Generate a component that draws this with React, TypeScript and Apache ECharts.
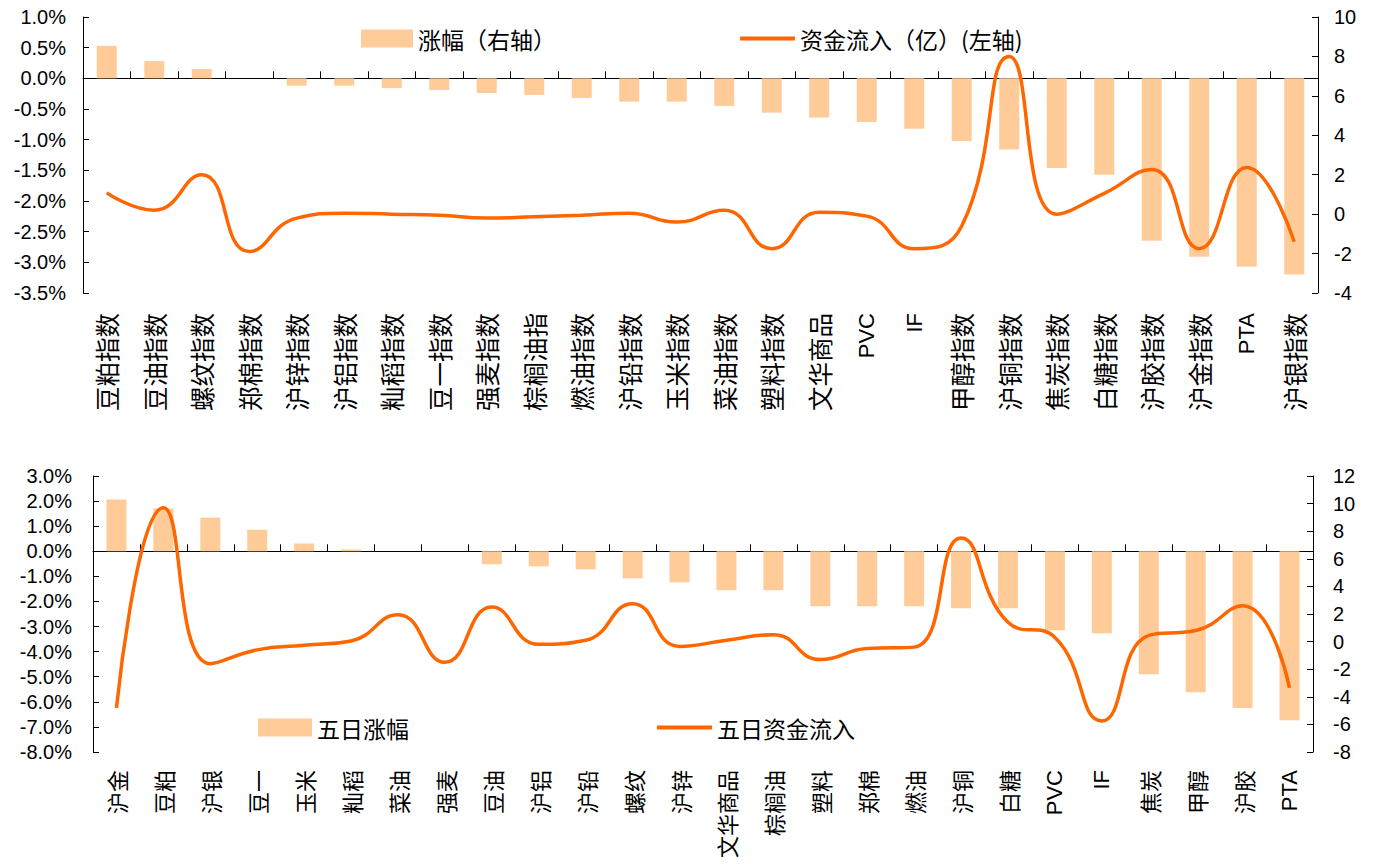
import React, { useEffect, useRef } from "react";
import * as echarts from "echarts";

const topCats = ['豆粕指数','豆油指数','螺纹指数','郑棉指数','沪锌指数','沪铝指数','籼稻指数','豆一指数','强麦指数','棕榈油指','燃油指数','沪铅指数','玉米指数','菜油指数','塑料指数','文华商品','PVC','IF','甲醇指数','沪铜指数','焦炭指数','白糖指数','沪胶指数','沪金指数','PTA','沪银指数'];
const topChange = [0.53, 0.28, 0.15, 0, -0.12, -0.12, -0.16, -0.19, -0.24, -0.27, -0.32, -0.38, -0.38, -0.45, -0.56, -0.64, -0.71, -0.82, -1.02, -1.16, -1.46, -1.57, -2.65, -2.91, -3.07, -3.20];
const topFlow = [1.08, 0.2, 2.0, -1.9, -0.2, 0.05, 0.0, -0.05, -0.2, -0.13, -0.05, 0.05, -0.4, 0.2, -1.75, 0.1, -0.1, -1.75, -0.6, 8.0, 0.0, 1.05, 2.27, -1.75, 2.37, -1.4];

const bottomCats = ['沪金','豆粕','沪银','豆一','玉米','籼稻','菜油','强麦','豆油','沪铝','沪铅','螺纹','沪锌','文华商品','棕榈油','塑料','郑棉','燃油','沪铜','白糖','PVC','IF','焦炭','甲醇','沪胶','PTA'];
const bottomChange = [2.06, 1.70, 1.34, 0.86, 0.31, 0.07, 0, 0, -0.52, -0.60, -0.72, -1.08, -1.24, -1.55, -1.55, -2.19, -2.19, -2.19, -2.27, -2.27, -3.15, -3.27, -4.90, -5.62, -6.25, -6.73];
const bottomFlow = [-4.8, 9.7, -1.6, -0.6, -0.27, 0.05, 1.95, -1.5, 2.5, -0.2, 0.1, 2.75, -0.35, 0.1, 0.5, -1.3, -0.5, -0.4, 7.5, 1.4, 0.3, -5.75, 0.45, 0.8, 2.6, -3.35];

const FONT = '"Liberation Sans", Arial, "Noto Sans CJK SC", sans-serif';
const CJK = '"Noto Sans CJK SC", sans-serif';
const BAR = '#FFCC99';
const LINE = '#FF6600';

function labelAxis(grid: number, data: string[], margin: number, cjkSize: number) {
  return {
    type: 'category', gridIndex: grid, data, position: 'bottom',
    axisLine: { show: false, onZero: false },
    axisTick: { show: false },
    axisLabel: {
      rotate: 90, interval: 0, margin, color: '#000', fontFamily: FONT, fontSize: 22,
      formatter: (v: string) => /^[A-Za-z]+$/.test(v) ? `{l|${v}}` : `{c|${v}}`,
      rich: {
        l: { fontSize: 22, fontFamily: FONT, color: '#000' },
        c: { fontSize: cjkSize, fontFamily: CJK, color: '#000' },
      },
    },
  };
}
function zeroAxis(grid: number, data: string[], yIdx: number) {
  return {
    type: 'category', gridIndex: grid, data, position: 'top',
    axisLine: { show: true, onZero: true, onZeroAxisIndex: yIdx, lineStyle: { color: '#000', width: 1 } },
    axisTick: { show: true, inside: false, length: 7, interval: 0, lineStyle: { color: '#000' } },
    axisLabel: { show: false },
  };
}
function valAxis(grid: number, pos: string, min: number, max: number, interval: number, pct: boolean, margin: number) {
  return {
    type: 'value', gridIndex: grid, position: pos, min, max, interval,
    axisLine: { show: true, onZero: false, lineStyle: { color: '#000', width: 1 } },
    axisTick: { show: true, inside: true, length: 6, lineStyle: { color: '#000' } },
    splitLine: { show: false },
    axisLabel: {
      fontSize: 20, color: '#000', fontFamily: FONT, margin,
      formatter: (v: number) => pct ? v.toFixed(1) + '%' : String(v),
    },
  };
}

const legendText = { fontSize: 23, fontFamily: CJK, color: '#000' };

export default function App() {
  const ref = useRef<HTMLDivElement>(null);
  useEffect(() => {
    const chart = echarts.init(ref.current!, undefined, { renderer: 'svg' });
    chart.setOption({
      animation: false,
      backgroundColor: '#fff',
      grid: [
        { left: 83, right: 60, top: 17, height: 276 },
        { left: 93, right: 65, top: 476, height: 276 },
      ],
      legend: [
        { data: [{ name: '涨幅（右轴）', icon: 'rect' }], left: 356, top: 22, itemWidth: 52, itemHeight: 18, textStyle: legendText },
        { data: [{ name: '资金流入（亿）(左轴)', icon: 'rect' }], left: 735, top: 22, itemWidth: 55, itemHeight: 4, textStyle: legendText },
        { data: [{ name: '五日涨幅', icon: 'rect' }], left: 253, top: 711, itemWidth: 54, itemHeight: 18, textStyle: legendText },
        { data: [{ name: '五日资金流入', icon: 'rect' }], left: 652, top: 711, itemWidth: 55, itemHeight: 4, textStyle: legendText },
      ],
      xAxis: [
        labelAxis(0, topCats, 20, 24.5),
        zeroAxis(0, topCats, 0),
        labelAxis(1, bottomCats, 18, 22),
        zeroAxis(1, bottomCats, 2),
      ],
      yAxis: [
        valAxis(0, 'left', -3.5, 1, 0.5, true, 17),
        valAxis(0, 'right', -4, 10, 2, false, 16),
        valAxis(1, 'left', -8, 3, 1, true, 21),
        valAxis(1, 'right', -8, 12, 2, false, 20),
      ],
      series: [
        { name: '涨幅（右轴）', type: 'bar', xAxisIndex: 0, yAxisIndex: 0, data: topChange, barWidth: 20, itemStyle: { color: BAR } },
        { name: '资金流入（亿）(左轴)', type: 'line', xAxisIndex: 0, yAxisIndex: 1, data: topFlow, smooth: true, symbol: 'none', lineStyle: { color: LINE, width: 3.5 }, itemStyle: { color: LINE } },
        { name: '五日涨幅', type: 'bar', xAxisIndex: 2, yAxisIndex: 2, data: bottomChange, barWidth: 20, itemStyle: { color: BAR } },
        { name: '五日资金流入', type: 'line', xAxisIndex: 2, yAxisIndex: 3, data: bottomFlow, smooth: true, symbol: 'none', lineStyle: { color: LINE, width: 3.5 }, itemStyle: { color: LINE } },
      ],
    });
    return () => chart.dispose();
  }, []);
  return <div ref={ref} style={{ position: 'absolute', left: 0, top: 0, width: 1378, height: 864 }} />;
}
